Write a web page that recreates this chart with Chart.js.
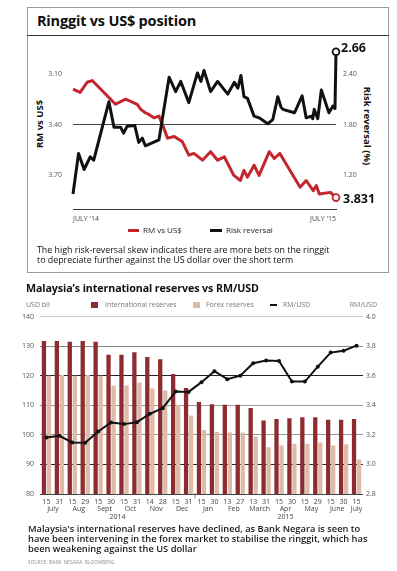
<!DOCTYPE html>
<html>
<head>
<meta charset="utf-8">
<script src="https://cdn.jsdelivr.net/npm/chart.js@4.4.0/dist/chart.umd.min.js"></script>
<style>
  body { margin: 0; width: 397px; height: 571px; background: #fff; position: relative; overflow: hidden; font-family: "Open Sans", sans-serif; color: #111; }
  .abs { position: absolute; white-space: nowrap; }
  #box { left: 27px; top: 7px; width: 362px; height: 266px; border: 1px solid #9a9a9a; box-sizing: border-box; }
  #boxRule { left: 27px; top: 35px; width: 362px; height: 1px; background: #333; }
  .title1 { left: 37px; top: 11px; font-size: 14.5px; font-weight: 700; letter-spacing: -0.2px; }
  .axTitle { font-size: 9.5px; font-weight: 700; transform-origin: center; }
  .leg1 { font-size: 8px; color: #222; }
  .cap1 { left: 37px; top: 245px; font-size: 8.85px; line-height: 10.2px; color: #111; }
  .title2 { left: 26px; top: 281px; font-size: 10.7px; font-weight: 700; letter-spacing: -0.1px; }
  .leg2 { font-size: 7px; color: #777; top: 300px; }
  .cap2 { left: 28px; top: 524px; font-size: 9.3px; line-height: 10.2px; font-weight: 600; color: #1a1a1a; }
  .src { left: 28px; top: 559px; font-size: 4.5px; color: #888; letter-spacing: 0.2px; }
  canvas { position: absolute; }
</style>
</head>
<body>
<div id="box" class="abs"></div>
<div id="boxRule" class="abs"></div>
<div class="abs title1">Ringgit vs US$ position</div>
<div class="abs axTitle" style="left:39px;top:124px;transform:translate(-50%,-50%) rotate(-90deg);">RM vs US$</div>
<div class="abs axTitle" style="left:367px;top:126px;transform:translate(-50%,-50%) rotate(90deg);">Risk reversal (%)</div>
<canvas id="rrChart" width="360" height="190" style="left:28px;top:36px;"></canvas>
<div class="abs" style="left:128px;top:228.5px;width:11px;height:3px;background:#c4262e;"></div>
<div class="abs leg1" style="left:143px;top:224px;">RM vs US$</div>
<div class="abs" style="left:210px;top:228.5px;width:12px;height:3px;background:#111;"></div>
<div class="abs leg1" style="left:226px;top:224px;">Risk reversal</div>
<div class="abs cap1">The high risk-reversal skew indicates there are more bets on the ringgit<br>to depreciate further against the US dollar over the short term</div>

<div class="abs title2">Malaysia’s international reserves vs RM/USD</div>
<div class="abs leg2" style="left:26px;">USD bil</div>
<div class="abs" style="left:91px;top:302px;width:6.5px;height:6px;background:#8c2b30;"></div>
<div class="abs leg2" style="left:105px;">International reserves</div>
<div class="abs" style="left:193px;top:302px;width:6.5px;height:6px;background:#dcbba8;"></div>
<div class="abs leg2" style="left:206px;">Forex reserves</div>
<div class="abs" style="left:270px;top:304px;width:7px;height:2px;background:#111;"></div>
<div class="abs leg2" style="left:283px;">RM/USD</div>
<div class="abs leg2" style="right:20px;">RM/USD</div>
<canvas id="resChart" width="397" height="225" style="left:0;top:300px;"></canvas>
<div class="abs cap2">Malaysia's international reserves have declined, as Bank Negara is seen to<br>have been intervening in the forex market to stabilise the ringgit, which has<br>been weakening against the US dollar</div>
<div class="abs src">SOURCE: BANK NEGARA, BLOOMBERG</div>

<script>
// ringgit vs US$ (top) - x in weeks from July '14
const xEndLabels = ["JULY '14", "JULY '15"];
const rrWeek = [0, 1.1, 2.2, 3.4, 4.1, 7.1, 8.1, 9.4, 10.0, 10.7, 12.2, 13.0, 13.7, 14.3, 17.0, 19.0, 20.3, 21.3, 22.9, 24.6, 25.3, 25.9, 27.2, 28.6, 30.6, 31.9, 32.6, 33.2, 33.8, 34.5, 35.8, 36.8, 38.5, 39.5, 40.5, 41.1, 41.5, 43.8, 45.3, 46.1, 47.1, 47.4, 47.7, 48.4, 49.1, 50.6, 51.4, 51.8, 52];
const rrValue = [0.98, 1.46, 1.27, 1.42, 1.38, 2.07, 1.77, 1.77, 1.70, 1.78, 1.79, 1.59, 1.64, 1.55, 1.62, 2.36, 2.19, 2.31, 2.06, 2.41, 2.31, 2.44, 2.19, 2.31, 2.16, 2.30, 2.23, 2.38, 2.13, 2.11, 1.90, 1.88, 1.81, 1.86, 2.13, 2.01, 1.98, 1.94, 2.14, 1.88, 1.90, 1.87, 1.98, 1.87, 2.21, 1.94, 2.02, 1.99, 2.66];
const rmWeek = [0, 1.4, 2.8, 3.8, 8.4, 10.4, 12.7, 13.4, 14.3, 15.0, 16.0, 17.0, 17.7, 18.7, 20.0, 21.6, 22.9, 23.9, 25.6, 27.2, 28.6, 29.9, 31.8, 33.1, 33.8, 34.5, 35.8, 36.8, 38.8, 39.8, 40.9, 44.9, 46.1, 47.5, 48.1, 48.7, 50.9, 52];
const rmValue = [3.19, 3.21, 3.15, 3.14, 3.28, 3.25, 3.28, 3.31, 3.33, 3.34, 3.36, 3.35, 3.40, 3.48, 3.47, 3.50, 3.58, 3.57, 3.61, 3.56, 3.61, 3.59, 3.70, 3.73, 3.67, 3.71, 3.64, 3.70, 3.56, 3.60, 3.57, 3.77, 3.73, 3.79, 3.76, 3.81, 3.80, 3.831];
const rmTicks = [3.10, 3.40, 3.70];
const rrTicks = [1.20, 1.80, 2.40];

// reserves vs RM/USD (bottom)
const dayLabels = ['15', '31', '15', '29', '15', '30', '15', '31', '14', '28', '15', '31', '15', '30', '13', '27', '13', '31', '15', '30', '15', '29', '15', '30', '15'];
const monthLabels = ['July', 'Aug', 'Sept', 'Oct', 'Nov', 'Dec', 'Jan', 'Feb', 'March', 'Apr', 'May', 'June', 'July'];
const monthSpan = [2, 2, 2, 2, 2, 2, 2, 2, 2, 2, 2, 2, 1];
const yearLabels = ['2014', '2015'];
const intlReserves = [131.8, 131.8, 131.5, 131.8, 131.5, 127.1, 127.1, 128.0, 126.4, 125.6, 120.6, 115.9, 111.1, 110.4, 110.2, 110.2, 109.1, 104.9, 105.4, 105.6, 106.0, 106.0, 105.1, 105.1, 105.4];
const forexReserves = [120.0, 120.3, 120.0, 120.3, 120.0, 116.7, 116.7, 117.7, 115.7, 115.0, 110.2, 106.6, 101.7, 101.0, 100.8, 100.8, 99.5, 95.8, 96.4, 97.0, 97.0, 97.4, 96.4, 96.8, 91.7];
const rmUsd = [3.182, 3.194, 3.149, 3.147, 3.223, 3.284, 3.273, 3.286, 3.343, 3.381, 3.493, 3.491, 3.557, 3.631, 3.577, 3.601, 3.685, 3.703, 3.701, 3.561, 3.561, 3.662, 3.757, 3.770, 3.804];

const RED = '#c4262e';
const tickFont = { family: 'Open Sans', size: 7 };

const toPoints = (xs, ys) => xs.map((x, i) => ({ x: x, y: ys[i] }));
const lastOnly = (r) => (ctx) => ctx.dataIndex === ctx.dataset.data.length - 1 ? r : 0;
// fixed axis width, and no extra label padding above/below the plot
const fixWidth = (w) => (axis) => { axis.width = w; axis.paddingTop = 0; axis.paddingBottom = 0; };

// big numbers next to the last points
const endLabels = {
    id: 'endLabels',
    afterDatasetsDraw(chart) {
        const ctx = chart.ctx;
        chart.data.datasets.forEach((ds, i) => {
            const meta = chart.getDatasetMeta(i);
            const pt = meta.data[meta.data.length - 1];
            ctx.save();
            ctx.font = 'bold 12.5px "Open Sans"';
            ctx.fillStyle = '#111';
            ctx.textBaseline = 'middle';
            ctx.fillText(ds.endText, pt.x + ds.endDx, pt.y + ds.endDy);
            ctx.restore();
        });
    }
};

new Chart(document.getElementById('rrChart'), {
    type: 'line',
    data: {
        datasets: [{
            label: 'Risk reversal',
            data: toPoints(rrWeek, rrValue),
            yAxisID: 'yR',
            borderColor: '#111',
            borderWidth: 3,
            borderJoinStyle: 'round',
            pointRadius: lastOnly(3.4),
            pointBackgroundColor: '#fff',
            pointBorderColor: '#111',
            pointBorderWidth: 1.8,
            order: 0,
            endText: rrValue[rrValue.length - 1].toFixed(2),
            endDx: 5, endDy: -3
        }, {
            label: 'RM vs US$',
            data: toPoints(rmWeek, rmValue),
            yAxisID: 'yL',
            borderColor: RED,
            borderWidth: 3,
            borderJoinStyle: 'round',
            pointRadius: lastOnly(3.4),
            pointBackgroundColor: '#fff',
            pointBorderColor: RED,
            pointBorderWidth: 1.8,
            order: 1,
            endText: rmValue[rmValue.length - 1].toFixed(3),
            endDx: 7, endDy: 2
        }]
    },
    options: {
        responsive: false,
        animation: false,
        clip: false,
        layout: { padding: { top: 9 } },
        plugins: { legend: { display: false }, tooltip: { enabled: false } },
        scales: {
            x: {
                type: 'linear', min: 0, max: 52,
                afterBuildTicks: (axis) => { axis.ticks = [{ value: 0 }, { value: 52 }]; },
                afterFit: (axis) => { axis.height = 16.7; },
                ticks: { callback: (v) => (v === 0 ? xEndLabels[0] : xEndLabels[1]), align: 'inner', font: tickFont, color: '#444', padding: 5, maxRotation: 0 },
                grid: { display: false, drawTicks: false },
                border: { color: '#333', width: 1 }
            },
            yL: {
                position: 'left', reverse: true, min: 2.93, max: 3.90,
                afterBuildTicks: (axis) => { axis.ticks = rmTicks.map((v) => ({ value: v })); },
                afterFit: fixWidth(45),
                ticks: { callback: (v) => v.toFixed(2), font: tickFont, color: '#555', padding: 11 },
                grid: { drawTicks: false, color: (c) => (c.tick && Math.abs(c.tick.value - 3.40) < 0.001 ? '#444' : 'rgba(0,0,0,0)'), lineWidth: 1 },
                border: { display: false }
            },
            yR: {
                position: 'right', min: 0.80, max: 2.74,
                afterBuildTicks: (axis) => { axis.ticks = rrTicks.map((v) => ({ value: v })); },
                afterFit: fixWidth(52),
                ticks: { callback: (v) => v.toFixed(2), font: tickFont, color: '#555', padding: 7 },
                grid: { display: false, drawTicks: false },
                border: { display: false }
            }
        }
    },
    plugins: [endLabels]
});

// month / year rows under the day labels
const monthRows = {
    id: 'monthRows',
    afterDraw(chart) {
        const ctx = chart.ctx;
        const x = chart.scales.x;
        const base = chart.chartArea.bottom;
        ctx.save();
        ctx.font = '7px "Open Sans"';
        ctx.fillStyle = '#444';
        ctx.textAlign = 'center';
        ctx.textBaseline = 'middle';
        let idx = 0;
        monthLabels.forEach((m, i) => {
            const a = x.getPixelForValue(idx);
            const b = x.getPixelForValue(idx + monthSpan[i] - 1);
            ctx.fillText(m, (a + b) / 2, base + 15);
            idx += monthSpan[i];
        });
        const y1 = (x.getPixelForValue(5) + x.getPixelForValue(6)) / 2;
        const y2 = (x.getPixelForValue(18) + x.getPixelForValue(19)) / 2;
        ctx.fillText(yearLabels[0], y1, base + 23);
        ctx.fillText(yearLabels[1], y2, base + 23);
        // year divider tick
        const sep = (x.getPixelForValue(11) + x.getPixelForValue(12)) / 2;
        ctx.strokeStyle = '#666';
        ctx.lineWidth = 0.8;
        ctx.beginPath();
        ctx.moveTo(sep, base - 1);
        ctx.lineTo(sep, base + 4);
        ctx.stroke();
        ctx.restore();
    }
};

const gridColors = { 140: '#c8c8c8', 130: '#8a8a8a', 120: '#222', 110: '#999', 100: '#999', 90: '#222', 80: '#444' };

new Chart(document.getElementById('resChart'), {
    type: 'bar',
    data: {
        labels: dayLabels,
        datasets: [{
            type: 'line',
            label: 'RM/USD',
            data: rmUsd,
            yAxisID: 'y2',
            borderColor: '#111',
            borderWidth: 2,
            pointRadius: 2,
            pointBackgroundColor: '#111',
            pointBorderWidth: 0,
            order: 0
        }, {
            label: 'International reserves',
            data: intlReserves,
            backgroundColor: '#8c2b30',
            barPercentage: 0.85,
            categoryPercentage: 0.78,
            order: 1
        }, {
            label: 'Forex reserves',
            data: forexReserves,
            backgroundColor: '#dcbba8',
            barPercentage: 0.85,
            categoryPercentage: 0.78,
            order: 2
        }]
    },
    options: {
        responsive: false,
        animation: false,
        layout: { padding: { top: 16.7 } },
        plugins: { legend: { display: false }, tooltip: { enabled: false } },
        scales: {
            x: {
                afterFit: (axis) => { axis.height = 31; },
                ticks: { font: tickFont, color: '#444', padding: 4, maxRotation: 0, autoSkip: false },
                grid: { display: false, drawTicks: false },
                border: { display: false }
            },
            y: {
                position: 'left', min: 80, max: 140,
                afterFit: fixWidth(40),
                ticks: { stepSize: 10, font: tickFont, color: '#555', padding: 6 },
                grid: { drawTicks: false, color: (c) => gridColors[c.tick.value] || '#999', lineWidth: 1 },
                border: { display: false }
            },
            y2: {
                position: 'right', min: 2.8, max: 4.0,
                afterFit: fixWidth(34),
                ticks: { stepSize: 0.2, callback: (v) => v.toFixed(1), font: tickFont, color: '#555', padding: 3 },
                grid: { display: false, drawTicks: false },
                border: { display: false }
            }
        }
    },
    plugins: [monthRows]
});
</script>
</body>
</html>
